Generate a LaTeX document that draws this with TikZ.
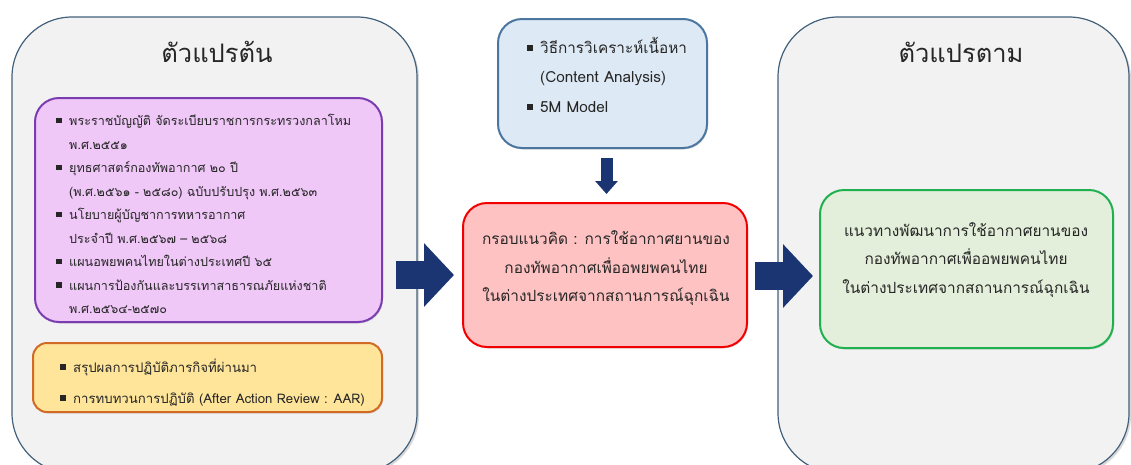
\documentclass[tikz,border=0pt]{standalone}
\usepackage{fontspec}
\setmainfont[Script=Thai]{Loma}
\usetikzlibrary{arrows.meta,shadows}

\definecolor{varfill}{HTML}{F2F2F2}
\definecolor{varline}{HTML}{44617B}
\definecolor{lawfill}{HTML}{F0C8F8}
\definecolor{lawline}{HTML}{7A3CB0}
\definecolor{aarfill}{HTML}{FFE59A}
\definecolor{aarline}{HTML}{D06A24}
\definecolor{methfill}{HTML}{DDE9F5}
\definecolor{methline}{HTML}{4A76A0}
\definecolor{framefill}{HTML}{FFC2C2}
\definecolor{frameline}{HTML}{F20000}
\definecolor{devfill}{HTML}{E3EFDA}
\definecolor{devline}{HTML}{1FB050}
\definecolor{navy}{HTML}{1B3572}

\newcommand{\blt}{\makebox[13pt][l]{\rule[2.5pt]{5.5pt}{5.5pt}}}
\newcommand{\ind}{\hspace*{13pt}}

\begin{document}
\begin{tikzpicture}[x=1pt,y=-1pt,
		varbox/.style={draw=varline,fill=varfill,line width=1.2pt,rounded corners=60pt,
			drop shadow={shadow xshift=2pt,shadow yshift=-2pt,opacity=.3}},
		inbox/.style={line width=2pt,rounded corners=24pt,
			drop shadow={shadow xshift=1pt,shadow yshift=-1.5pt,opacity=.25}},
		titletext/.style={font=\fontsize{25.5}{28}\selectfont,text=black!85},
		listtext/.style={align=left,inner sep=0pt,text=black!85},
		midtext/.style={align=center,inner sep=0pt,text=black!85,font=\fontsize{15.4}{28.5}\selectfont},
		bigarrow/.style={draw=navy,line width=28pt,-{Triangle[length=30pt,width=62pt]}}]
	\useasboundingbox (0,0) rectangle (1131,464);
	\clip (0,0) rectangle (1131,464);
	
	% Independent / dependent variables
	\node[varbox,minimum width=405,minimum height=456] (varL) at (214.5,245) {};
	\node[varbox,minimum width=351,minimum height=456] (varR) at (953.5,245) {};
	\node[titletext] (titleL) at (217,52) {ตัวแปรต้น};
	\node[titletext] (titleR) at (961,52) {ตัวแปรตาม};
	
	%% Laws and plans
	\node[inbox,draw=lawline,fill=lawfill,minimum width=347,minimum height=224] (lawbox) at (208.5,210) {};
	\node[listtext,anchor=west,font=\fontsize{12.6}{23.5}\selectfont] (lawtext) at (56,214) {%
		\blt พระราชบัญญัติ จัดระเบียบราชการกระทรวงกลาโหม\\
		\ind พ.ศ.๒๕๕๑\\
		\blt ยุทธศาสตร์กองทัพอากาศ ๒๐ ปี\\
		\ind (พ.ศ.๒๕๖๑ - ๒๕๘๐) ฉบับปรับปรุง พ.ศ.๒๕๖๓\\
		\blt นโยบายผู้บัญชาการทหารอากาศ\\
		\ind ประจำปี พ.ศ.๒๕๖๗ – ๒๕๖๘\\
		\blt แผนอพยพคนไทยในต่างประเทศปี ๖๕\\
		\blt แผนการป้องกันและบรรเทาสาธารณภัยแห่งชาติ\\
		\ind พ.ศ.๒๕๖๔-๒๕๗๐};
	
	%% Lessons learned
	\node[inbox,draw=aarline,fill=aarfill,rounded corners=14pt,minimum width=349,minimum height=69] (aarbox) at (207.5,377.5) {};
	\node[listtext,anchor=west,font=\fontsize{13.2}{31}\selectfont] (aartext) at (60,382.5) {%
		\blt สรุปผลการปฏิบัติภารกิจที่ผ่านมา\\
		\blt การทบทวนการปฏิบัติ (After Action Review : AAR)};
	
	%% Method
	\node[inbox,draw=methline,fill=methfill,minimum width=209,minimum height=129] (methbox) at (602.5,83.5) {};
	\node[listtext,anchor=west,font=\fontsize{15.3}{29.5}\selectfont] (methtext) at (527,74.5) {%
		\blt วิธีการวิเคราะห์เนื้อหา\\
		\ind (Content Analysis)\\
		\blt 5M Model};
	
	%% Conceptual framework
	\node[inbox,draw=frameline,fill=framefill,minimum width=284,minimum height=144] (framebox) at (605,275) {};
	\node[midtext] (frametext) at (606,268.5) {กรอบแนวคิด : การใช้อากาศยานของ\\กองทัพอากาศเพื่ออพยพคนไทย\\ในต่างประเทศจากสถานการณ์ฉุกเฉิน};
	
	%% Development guideline
	\node[inbox,draw=devline,fill=devfill,minimum width=293,minimum height=158] (devbox) at (966.5,269) {};
	\node[midtext] (devtext) at (966,260) {แนวทางพัฒนาการใช้อากาศยานของ\\กองทัพอากาศเพื่ออพยพคนไทย\\ในต่างประเทศจากสถานการณ์ฉุกเฉิน};
	
	%% Block arrows
	\draw[bigarrow] ([xshift=-22pt]varL.east |- framebox.west) -- ([xshift=-8pt]framebox.west);
	\draw[bigarrow] ([xshift=7pt,yshift=-1pt]framebox.east) -- ([xshift=-6pt,yshift=-1pt]framebox.east -| devbox.west);
	\draw[bigarrow,line width=12pt,-{Triangle[length=13pt,width=22pt]}] ([xshift=4pt,yshift=-9pt]methbox.south) -- ([xshift=4pt,yshift=8pt]methbox.south |- framebox.north);
\end{tikzpicture}
\end{document}
